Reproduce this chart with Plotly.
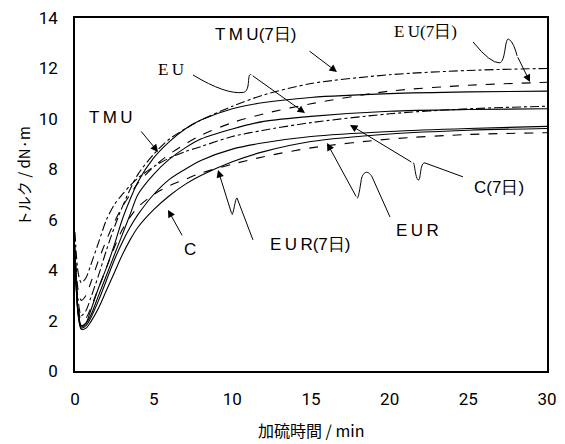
import plotly.graph_objects as go

# cure time (min) and torque (dN·m)
t_min = [0, 0.2, 0.4, 0.7, 1, 1.5, 2, 2.5, 3, 3.5, 4, 5, 6, 7, 8, 10, 12, 15, 20, 25, 30]

tmu = [4.5, 2.3, 1.75, 1.9, 2.4, 3.3, 4.1, 5.0, 6.0, 6.8, 7.5, 8.45, 9.1, 9.6, 9.95, 10.4, 10.65, 10.85, 11.0, 11.07, 11.1]
tmu_7d = [4.8, 2.8, 2.2, 2.4, 2.9, 3.8, 4.8, 5.7, 6.5, 7.2, 7.8, 8.6, 9.2, 9.6, 9.95, 10.5, 10.95, 11.4, 11.75, 11.92, 12.0]
eu = [4.5, 2.4, 1.8, 1.9, 2.2, 3.0, 3.8, 4.6, 5.4, 6.2, 7.0, 7.8, 8.4, 8.85, 9.2, 9.6, 9.9, 10.1, 10.3, 10.37, 10.4]
eu_7d = [5.0, 3.2, 2.8, 3.0, 3.5, 4.4, 5.2, 5.9, 6.5, 7.0, 7.45, 8.1, 8.6, 9.0, 9.35, 9.85, 10.2, 10.6, 11.1, 11.33, 11.45]
c = [4.3, 2.2, 1.65, 1.7, 1.95, 2.5, 3.2, 3.9, 4.6, 5.2, 5.7, 6.4, 6.95, 7.4, 7.75, 8.3, 8.7, 9.1, 9.4, 9.55, 9.62]
c_7d = [5.5, 3.9, 3.5, 3.7, 4.2, 5.1, 6.0, 6.6, 7.0, 7.35, 7.65, 8.1, 8.45, 8.7, 8.9, 9.3, 9.55, 9.85, 10.2, 10.4, 10.5]
eur = [4.4, 2.3, 1.7, 1.8, 2.1, 2.8, 3.6, 4.4, 5.1, 5.7, 6.2, 7.0, 7.6, 8.0, 8.35, 8.8, 9.05, 9.3, 9.5, 9.62, 9.7]
eur_7d = [4.6, 2.6, 2.0, 2.1, 2.5, 3.3, 4.1, 4.9, 5.6, 6.1, 6.5, 7.0, 7.35, 7.6, 7.85, 8.2, 8.5, 8.85, 9.2, 9.38, 9.45]

series = [
    ("TMU", tmu, "solid"),
    ("TMU(7日)", tmu_7d, "dashdot"),
    ("EU", eu, "solid"),
    ("EU(7日)", eu_7d, "dash"),
    ("C", c, "solid"),
    ("C(7日)", c_7d, "dashdot"),
    ("EUR", eur, "solid"),
    ("EUR(7日)", eur_7d, "dash"),
]

SANS = "Liberation Sans, Arial, sans-serif"
SERIF = "Liberation Serif, Times New Roman, serif"
NARROW = "Liberation Sans Narrow, Arial Narrow, Roboto, sans-serif"
CJK = "Noto Sans CJK JP, sans-serif"

fig = go.Figure()
for name, vals, dash in series:
    fig.add_trace(go.Scatter(
        x=t_min, y=vals, name=name, mode="lines",
        line={"color": "black", "width": 1.1, "dash": dash, "shape": "spline", "smoothing": 0.8},
    ))

# labels: (text, x, y, font)
labels = [
    ("T\u2009M\u2009U(7日)", 11.5, 13.33, SANS),
    ("E\u2009U(7日)", 22.3, 13.45, SERIF),
    ("E\u2009U", 6.1, 11.94, SERIF),
    ("T\u2009M\u2009U", 2.29, 10.04, SANS),
    ("C(7日)", 26.95, 7.26, SANS),
    ("E\u2009U\u2009R", 21.74, 5.59, SANS),
    ("E\u2009U\u2009R(7日)", 14.94, 5.0, SANS),
    ("C", 7.31, 4.8, SANS),
]
for text, x, y, fam in labels:
    fig.add_annotation(x=x, y=y, text=text, showarrow=False,
                       font={"family": fam, "size": 17, "color": "black"})

# wavy leader lines
leaders = [
    "M 7.5,11.74 Q 9.6,10.95 10.7,11.05 C 11.2,11.1 10.9,11.85 11.2,11.75",
    "M 25.3,13.05 Q 26.4,12.2 27.0,12.22 C 27.4,12.3 27.3,13.3 27.6,13.15 Q 27.9,13.0 28.1,12.5",
    "M 24.66,7.70 L 22.25,8.25 C 21.9,8.3 22.0,7.5 21.8,7.58 C 21.6,7.7 21.6,8.3 21.48,8.25",
    "M 20.02,6.11 L 18.88,7.70 C 18.6,8.0 18.3,7.9 18.2,7.6 C 18.1,7.2 18.0,6.8 17.92,6.86",
    "M 11.31,5.2 L 10.3,6.86 C 10.2,6.9 10.1,6.3 9.98,6.19",
]
for p in leaders:
    fig.add_shape(type="path", path=p, xref="x", yref="y",
                  line={"color": "black", "width": 1})

# arrows: (tail x, tail y, tip x, tip y)
arrows = [
    (11.2, 11.75, 14.62, 10.23),
    (28.1, 12.5, 28.92, 11.46),
    (21.48, 8.25, 17.48, 9.76),
    (17.92, 6.86, 16.02, 9.04),
    (9.98, 6.19, 9.09, 7.97),
    (4.13, 9.56, 5.28, 8.69),
    (14.81, 12.73, 16.65, 11.86),
    (6.86, 5.32, 5.91, 6.39),
]
for ax, ay, x, y in arrows:
    fig.add_annotation(x=x, y=y, ax=ax, ay=ay, axref="x", ayref="y", text="",
                       showarrow=True, arrowhead=2, arrowsize=1.5, arrowwidth=1,
                       arrowcolor="black")

# axis titles placed as free text
fig.add_annotation(x=0.5, y=-0.167, xref="paper", yref="paper", text="加硫時間 / min",
                   xanchor="center", yanchor="middle",
                   showarrow=False, font={"family": CJK, "size": 16})
fig.add_annotation(x=-0.11, y=0.552, xref="paper", yref="paper", text="トルク / dN·m",
                   xanchor="center", yanchor="middle",
                   textangle=-90, showarrow=False, font={"family": CJK, "size": 15})

fig.update_layout(
    width=565, height=444,
    margin={"l": 75, "r": 18, "t": 18, "b": 73},
    paper_bgcolor="white", plot_bgcolor="white",
    showlegend=False,
    font={"family": NARROW, "color": "black", "size": 17},
)
fig.update_xaxes(
    range=[0, 30], dtick=5, showgrid=False, zeroline=False,
    showline=True, mirror=True, linecolor="black", linewidth=1.5,
    ticks="", ticklabelstandoff=12, automargin=False, ticklabeloverflow="allow",
)
fig.update_yaxes(
    range=[0, 14], dtick=2, showgrid=False, zeroline=False,
    showline=True, mirror=True, linecolor="black", linewidth=1.5,
    ticks="", ticklabelstandoff=12, automargin=False, ticklabeloverflow="allow",
)

# drop the page's default body margin so the figure sits at the window's corner
fig.write_html("out.html", config={"displayModeBar": False},
               post_script="document.body.style.margin='0';")
